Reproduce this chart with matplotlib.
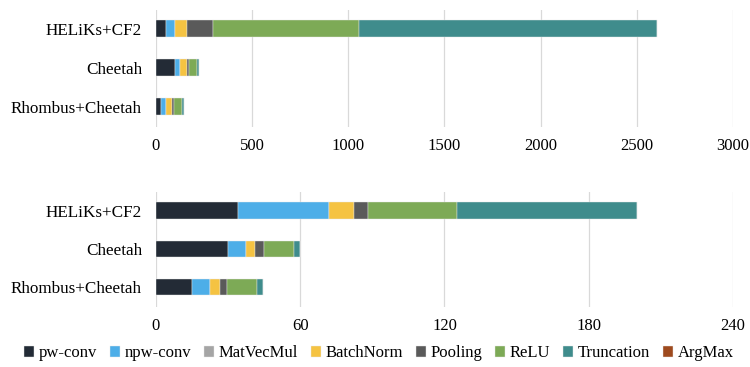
import matplotlib
matplotlib.use('Agg')
import matplotlib.pyplot as plt
import numpy as np

plt.rcParams['font.family'] = ['Liberation Serif', 'DejaVu Serif']

systems = ['HELiKs+CF2', 'Cheetah', 'Rhombus+Cheetah']
layers = ['pw-conv', 'npw-conv', 'MatVecMul', 'BatchNorm', 'Pooling',
          'ReLU', 'Truncation', 'ArgMax']
colors = ['#232b36', '#4daee8', '#a5a5a5', '#f5c342', '#5a5a5a',
          '#7daa56', '#3f8c8c', '#9e4a1e']

# per-layer cost, rows follow `systems`
top_vals = {
    'pw-conv':    [52, 100, 26],
    'npw-conv':   [45, 26, 24],
    'MatVecMul':  [1, 0.5, 0.5],
    'BatchNorm':  [64, 35, 35],
    'Pooling':    [134, 9, 11],
    'ReLU':       [759, 41, 39],
    'Truncation': [1549, 13, 11],
    'ArgMax':     [3, 0.3, 0.3],
}
bottom_vals = {
    'pw-conv':    [34.3, 29.8, 14.8],
    'npw-conv':   [37.5, 7.6, 7.7],
    'MatVecMul':  [0.1, 0.05, 0.05],
    'BatchNorm':  [10.5, 3.7, 3.9],
    'Pooling':    [5.8, 3.6, 3.3],
    'ReLU':       [37.1, 12.8, 12.2],
    'Truncation': [74.8, 2.2, 2.5],
    'ArgMax':     [0.1, 0.05, 0.05],
}
top_ticks = [0, 500, 1000, 1500, 2000, 2500, 3000]
bottom_ticks = [0, 60, 120, 180, 240]


def stacked(ax, vals, ticks):
    y = np.arange(len(systems))
    left = np.zeros(len(systems))
    for name, c in zip(layers, colors):
        w = np.array(vals[name], dtype=float)
        ax.barh(y, w, left=left, height=0.43, color=c, label=name,
                edgecolor='#e8e8e8', linewidth=0.3, zorder=3)
        left += w
    ax.set_yticks(y)
    ax.set_yticklabels(systems, fontsize=12.3)
    ax.set_ylim(2.52, -0.48)
    ax.set_xticks(ticks)
    ax.set_xticklabels([str(t) for t in ticks], fontsize=12)
    ax.set_xlim(ticks[0], ticks[-1])
    ax.grid(axis='x', color='#d9d9d9', linewidth=0.9, zorder=0)
    for s in ax.spines.values():
        s.set_visible(False)
    ax.tick_params(axis='both', length=0)
    ax.tick_params(axis='x', pad=8)
    ax.tick_params(axis='y', pad=10)


fig = plt.figure(figsize=(7.5, 3.67), dpi=100)
ax1 = fig.add_axes([0.2079, 0.654, 0.7695, 0.319])
ax2 = fig.add_axes([0.2079, 0.164, 0.7695, 0.312])
stacked(ax1, top_vals, top_ticks)
stacked(ax2, bottom_vals, bottom_ticks)

handles, labels = ax2.get_legend_handles_labels()
fig.legend(handles, labels, loc='center', bbox_to_anchor=(0.505, 0.037),
           ncol=8, frameon=False, fontsize=12, handlelength=0.6,
           handleheight=0.6, handletextpad=0.3, columnspacing=0.75)

fig.savefig('out.png', dpi=100)
